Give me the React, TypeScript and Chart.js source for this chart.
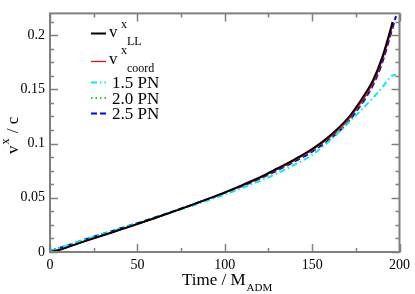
import React, { useEffect, useRef } from "react";
import { Chart, registerables } from "chart.js";

Chart.register(...registerables);

// ---- data ----
const tLL = [0, 5, 10, 20, 30, 40, 50, 60, 70, 80, 90, 100, 110, 120, 130, 140, 150, 160, 170, 175, 180, 185, 190, 195, 196];
const vLL = [0, 0.0018, 0.0045, 0.0100, 0.0152, 0.0205, 0.0258, 0.0313, 0.0370, 0.0428, 0.0488, 0.0550, 0.0617, 0.0688, 0.0770, 0.0855, 0.0950, 0.1070, 0.1225, 0.1330, 0.1450, 0.1590, 0.1790, 0.2060, 0.2120];

const tCoord = [0, 5, 10, 20, 30, 40, 50, 60, 70, 80, 90, 100, 110, 120, 130, 140, 150, 160, 170, 175, 180, 185, 190, 195, 196.5];
const vCoord = [0, 0.0016, 0.0043, 0.0098, 0.0150, 0.0203, 0.0256, 0.0310, 0.0366, 0.0424, 0.0484, 0.0545, 0.0610, 0.0680, 0.0760, 0.0845, 0.0938, 0.1055, 0.1205, 0.1310, 0.1425, 0.1565, 0.1760, 0.2030, 0.2120];

const tPN15 = [0, 5, 10, 20, 30, 40, 50, 60, 70, 80, 90, 100, 110, 120, 130, 140, 150, 160, 170, 175, 180, 185, 190, 194, 196, 198];
const vPN15 = [0.0010, 0.0035, 0.0061, 0.0114, 0.0165, 0.0214, 0.0263, 0.0313, 0.0365, 0.0419, 0.0474, 0.0530, 0.0590, 0.0655, 0.0725, 0.0805, 0.0895, 0.1025, 0.1180, 0.1260, 0.1340, 0.1425, 0.1515, 0.1600, 0.1628, 0.1632];

const tPN20 = [0, 5, 10, 20, 30, 40, 50, 60, 70, 80, 90, 100, 110, 120, 130, 140, 150, 160, 170, 175, 180, 185, 190, 195, 197];
const vPN20 = [0.0010, 0.0035, 0.0061, 0.0115, 0.0166, 0.0216, 0.0266, 0.0318, 0.0372, 0.0428, 0.0486, 0.0546, 0.0610, 0.0678, 0.0755, 0.0838, 0.0930, 0.1045, 0.1190, 0.1295, 0.1412, 0.1555, 0.1750, 0.2020, 0.2110];

const tPN25 = [0, 5, 10, 20, 30, 40, 50, 60, 70, 80, 90, 100, 110, 120, 130, 140, 150, 160, 170, 175, 180, 185, 190, 195, 198];
const vPN25 = [0.0010, 0.0035, 0.0061, 0.0115, 0.0166, 0.0216, 0.0266, 0.0318, 0.0372, 0.0428, 0.0486, 0.0545, 0.0608, 0.0676, 0.0752, 0.0835, 0.0925, 0.1040, 0.1185, 0.1290, 0.1405, 0.1545, 0.1740, 0.2010, 0.2175];

const xTicks = [0, 50, 100, 150, 200];
const yTicks = [0, 0.05, 0.1, 0.15, 0.2];

const pts = (t: number[], v: number[]) => t.map((x, i) => ({ x, y: v[i] }));

const SERIF = "'Liberation Serif', 'Times New Roman', serif";

const framePlugin = {
  id: "frameTicks",
  afterDatasetsDraw(chart: any) {
    const { ctx, chartArea: a, scales } = chart;
    const xs = scales.x;
    const ys = scales.y;
    ctx.save();
    ctx.strokeStyle = "#808080";
    ctx.lineWidth = 2;
    ctx.strokeRect(a.left, a.top, a.right - a.left, a.bottom - a.top);
    ctx.lineWidth = 1.5;
    ctx.beginPath();
    for (let v = 0; v <= 200.001; v += 25) {
      const px = Math.round(xs.getPixelForValue(v)) + 0.5;
      const len = Math.abs(v % 50) < 1e-6 ? 8 : 4;
      ctx.moveTo(px, a.bottom);
      ctx.lineTo(px, a.bottom - len);
      ctx.moveTo(px, a.top);
      ctx.lineTo(px, a.top + len);
    }
    for (let i = 0; i * 0.0125 <= 0.22 + 1e-9; i++) {
      const v = i * 0.0125;
      const py = Math.round(ys.getPixelForValue(v)) + 0.5;
      const len = i % 4 === 0 ? 8 : 4;
      ctx.moveTo(a.left, py);
      ctx.lineTo(a.left + len, py);
      ctx.moveTo(a.right, py);
      ctx.lineTo(a.right - len, py);
    }
    ctx.stroke();
    ctx.restore();
  },
  afterDraw(chart: any) {
    const { ctx } = chart;
    ctx.save();
    ctx.fillStyle = "#000";
    ctx.textBaseline = "alphabetic";
    ctx.textAlign = "left";

    // legend
    const ds = chart.data.datasets;
    const rows = [33, 61, 82, 97.5, 113];
    rows.forEach((y: number, i: number) => {
      const d = ds[i];
      ctx.save();
      ctx.strokeStyle = d.borderColor;
      ctx.lineWidth = d.borderWidth;
      ctx.setLineDash(d.borderDash || []);
      ctx.beginPath();
      ctx.moveTo(91, y + 0.5);
      ctx.lineTo(106, y + 0.5);
      ctx.stroke();
      ctx.restore();
    });
    const big = `17px ${SERIF}`;
    const small = `12px ${SERIF}`;
    // v^x_LL
    ctx.font = big;
    ctx.fillText("v", 109, 37);
    ctx.font = small;
    ctx.fillText("x", 121, 28);
    ctx.fillText("LL", 127, 45);
    // v^x_coord
    ctx.font = big;
    ctx.fillText("v", 109, 64);
    ctx.font = small;
    ctx.fillText("x", 121, 54);
    ctx.fillText("coord", 127, 71.5);
    ctx.font = big;
    ctx.fillText(ds[2].label, 112, 88);
    ctx.fillText(ds[3].label, 112, 103.5);
    ctx.fillText(ds[4].label, 112, 119);

    // x axis title
    ctx.font = `17px ${SERIF}`;
    const t1 = "Time / M";
    ctx.fillText(t1, 182, 285);
    const w1 = ctx.measureText(t1).width;
    ctx.font = `11px ${SERIF}`;
    ctx.fillText("ADM", 182 + w1 + 1, 291);

    // y axis title (rotated)
    ctx.translate(18, 154);
    ctx.rotate(-Math.PI / 2);
    ctx.font = `17px ${SERIF}`;
    ctx.fillText("v", 0, 0);
    const wv = ctx.measureText("v").width;
    ctx.font = `12px ${SERIF}`;
    ctx.fillText("x", wv + 1, -9);
    const wx = ctx.measureText("x").width;
    ctx.font = `17px ${SERIF}`;
    ctx.fillText(" / c", wv + wx + 2, 0);
    ctx.restore();
  },
};

export default function App() {
  const ref = useRef<HTMLCanvasElement>(null);
  useEffect(() => {
    document.body.style.margin = "0";
    const chart = new Chart(ref.current!, {
      type: "line",
      data: {
        datasets: [
          { label: "vLL", data: pts(tLL, vLL), borderColor: "#000000", borderWidth: 2, borderDash: [] },
          { label: "vcoord", data: pts(tCoord, vCoord), borderColor: "#ff0000", borderWidth: 1.2, borderDash: [] },
          { label: "1.5 PN", data: pts(tPN15, vPN15), borderColor: "#00f0f0", borderWidth: 2, borderDash: [6, 3, 1.5, 3] },
          { label: "2.0 PN", data: pts(tPN20, vPN20), borderColor: "#00a000", borderWidth: 1.5, borderDash: [1.5, 3] },
          { label: "2.5 PN", data: pts(tPN25, vPN25), borderColor: "#0000ff", borderWidth: 2, borderDash: [6, 3] },
        ] as any,
      },
      options: {
        animation: false,
        responsive: false,
        parsing: false,
        layout: { padding: { top: 2, right: 12, left: 0, bottom: 0 } },
        elements: {
          point: { radius: 0 },
          line: { cubicInterpolationMode: "monotone", fill: false },
        },
        plugins: { legend: { display: false }, tooltip: { enabled: false }, title: { display: false } },
        scales: {
          x: {
            type: "linear",
            min: 0,
            max: 200,
            afterBuildTicks: (s: any) => { s.ticks = xTicks.map((value) => ({ value })); },
            afterFit: (s: any) => { s.height = 42; },
            grid: { display: false, drawTicks: false },
            border: { display: false },
            ticks: {
              padding: 5,
              maxRotation: 0,
              color: "#000",
              font: { family: SERIF, size: 14 },
              callback: (v: any) => String(v),
            },
          },
          y: {
            type: "linear",
            min: 0,
            max: 0.22,
            afterBuildTicks: (s: any) => { s.ticks = yTicks.map((value) => ({ value })); },
            afterFit: (s: any) => { s.width = 50; },
            grid: { display: false, drawTicks: false },
            border: { display: false },
            ticks: {
              padding: 5,
              color: "#000",
              font: { family: SERIF, size: 14 },
              callback: (v: any) => String(+Number(v).toFixed(4)),
            },
          },
        },
      },
      plugins: [framePlugin],
    });
    return () => chart.destroy();
  }, []);
  return (
    <div style={{ position: "fixed", left: 0, top: 0, width: 415, height: 294, background: "#fff" }}>
      <canvas ref={ref} width={415} height={294} />
    </div>
  );
}
